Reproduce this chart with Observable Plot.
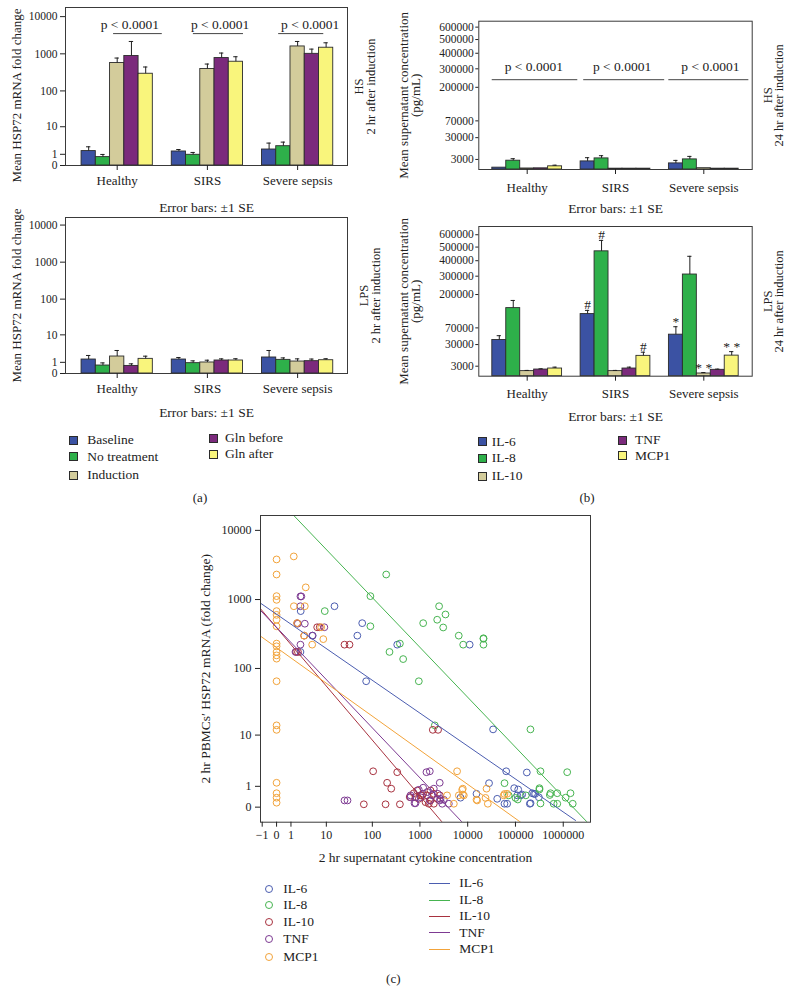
<!DOCTYPE html>
<html><head><meta charset="utf-8">
<script src="https://cdn.jsdelivr.net/npm/d3@7"></script>
<script src="https://cdn.jsdelivr.net/npm/@observablehq/plot@0.6"></script>
<style>
body{margin:0;background:#fff;}
#root{position:relative;width:790px;height:993px;font-family:"Liberation Serif","DejaVu Serif",serif;color:#222;overflow:hidden;background:#fff;}
#root svg{overflow:visible;max-width:none;}
.lab{position:absolute;white-space:nowrap;line-height:1;}
.sw{position:absolute;box-sizing:border-box;}
</style></head><body><div id="root"></div>
<script>
// ---------------- data ----------------
const groups = ["Healthy", "SIRS", "Severe sepsis"];
const hspSeries = ["Baseline", "No treatment", "Induction", "Gln before", "Gln after"];
const cytokines = ["IL-6", "IL-8", "IL-10", "TNF", "MCP1"];
const barColors = ["#3b52a3", "#2eb04a", "#d3cc9b", "#7b2a7c", "#f9f57c"];
const scatterColors = ["#4b5db0", "#46b450", "#a8323f", "#7d3a92", "#f2a33a"];

// (a) HSP72 mRNA fold change, rows = groups, columns = hspSeries
const hs2Mean = [[1.44, 0.68, 566, 872, 291], [1.38, 0.94, 390, 770, 613], [1.69, 2.3, 1580, 1000, 1460]];
const hs2Err  = [[2.18, 0.98, 770, 2150, 442], [1.69, 1.24, 531, 1050, 835], [3.0, 3.25, 2150, 1340, 1980]];
const lps2Mean = [[1.38, 0.64, 1.87, 0.6, 1.48], [1.38, 0.9, 0.98, 1.24, 1.24], [1.7, 1.33, 1.1, 1.15, 1.28]];
const lps2Err  = [[2.06, 0.93, 3.17, 0.82, 1.93], [1.7, 1.19, 1.28, 1.48, 1.5], [3.17, 1.63, 1.48, 1.45, 1.5]];
const hspTicks = [0, 1, 10, 100, 1000, 10000];

// (b) supernatant concentration (pg/mL), columns = cytokines
const hs24Mean = [[100, 2290, 30, 40, 300], [1940, 3650, 20, 20, 20], [1100, 3020, 50, 20, 20]];
const hs24Err  = [[null, 3450, null, null, 550], [4120, 5640, null, null, null], [2450, 5080, null, null, null]];
const lps24Mean = [[39400, 139000, 773, 1330, 1760], [115700, 467600, 773, 1760, 12400], [51700, 310000, 217, 1218, 12700]];
const lps24Err  = [[49200, 172000, 1000, 1630, 2460], [129900, 553000, 1000, 2460, 17300], [73400, 431000, 400, 1500, 18100]];
const concTicks = [3000, 30000, 70000, 200000, 300000, 400000, 500000, 600000];
const lps24Marks = [[1, 0, "#"], [1, 1, "#"], [1, 4, "#"], [2, 0, "*"], [2, 2, "* *"], [2, 4, "* *"]];

// (c) scatter: [cytokine concentration, HSP72 fold change]
const il6Points = [[15.3,800],[2.2,680],[61,455],[48,300],[334,222],[11000,222],[74,65],[4.7,300],[2.16,174],
  [34000,12.3],[64000,2.3],[173000,2.17],[28000,1.22],[94000,0.88],[114000,0.8],[138000,0.52],[224000,0.59],
  [258000,0.55],[15300,0.56],[41500,0.32],[58900,0.12],[67000,0.12],[109000,0.48],[128000,0.48],[207000,0.14],
  [243000,0.56],[309000,0.39],[200000,0.12],[7080,0.37]];
const il8Points = [[9.2,680],[196,2300],[91,1120],[91,410],[230,174],[380,230],[445,137],[948,65],[1170,455],
  [2300,510],[2520,800],[3430,608],[3070,394],[6500,300],[8050,222],[21400,270],[21400,222],[2050,14.2],
  [206000,12.3],[334000,2.3],[1210000,2.2],[59000,1.22],[165000,0.48],[72000,0.48],[112000,0.29],[318000,0.88],
  [318000,0.8],[524000,0.5],[750000,0.59],[1120000,0.37],[1420000,0.59],[1580000,0.12],[750000,0.12],
  [630000,0.12],[334000,0.13],[100000,0.36],[541000,0.59],[21400,275]];
const il10Points = [[6.08,397],[7,397],[25.4,222],[32.6,222],[1.57,174],[1.8,174],[1.7,455],[2.78,300],
  [1860,12.1],[2400,12.1],[104,2.3],[334,2.2],[205,1.25],[250,0.85],[66,0.1],[190,0.1],[380,0.1],[610,0.4],
  [745,0.59],[876,0.74],[1030,0.48],[1170,0.56],[947,0.32],[808,0.39],[1420,0.48],[1665,0.74],[1955,0.56],
  [2300,0.32],[1665,0.25],[1310,0.18],[1115,0.48],[1535,0.12],[1955,0.12],[2610,0.48]];
const tnfPoints = [[2.16,1110],[2.3,1110],[2.16,800],[1.78,447],[2.9,447],[4.6,300],[9,397],[1.49,174],[2.16,222],
  [25.4,0.25],[29.5,0.25],[1370,2.2],[1610,2.3],[2600,1.25],[635,0.39],[947,0.78],[1170,0.91],[808,0.14],
  [1610,0.25],[2370,0.56],[2610,0.25],[1955,0.85],[2930,0.12],[4030,0.12],[3160,0.28],[635,0.48],[770,0.14],
  [1030,0.39],[1420,0.65],[1805,0.48],[2700,0.32]];
const mcp1Points = [[0,3800],[0,2300],[0,1120],[0,990],[0,680],[0,600],[0,510],[0,410],[0,230],[0,210],[0,174],
  [0,155],[0,139],[0,65],[0,14.2],[0,12.1],[0,1.25],[0,0.59],[0,0.37],[0,0.16],[1.29,4200],[1.3,800],[1.7,455],
  [3.08,1500],[2.9,800],[2.78,300],[4.56,222],[8.5,267],[7.6,397],[6000,2.3],[3700,0.48],[5130,0.12],[6520,0.48],
  [7670,0.78],[8300,0.48],[24800,0.85],[23600,0.36],[26400,0.12],[15300,0.28],[15800,0.25],[57000,0.48],
  [67000,0.56],[59000,0.55],[7900,0.85],[7900,0.52]];
// fitted lines, two end points each
const il6Fit = [[-1.17, 886], [1810000, -0.556]];
const il8Fit = [[1.29, 16400], [3180000, -0.65]];
const il10Fit = [[-1.17, 735], [2930, -0.65]];
const tnfFit = [[-1.17, 695], [7670, -0.65]];
const mcp1Fit = [[-1.17, 295], [128000, -0.65]];
const cXTicks = [-1, 0, 1, 10, 100, 1000, 10000, 100000, 1000000];
const cYTicks = [0, 1, 10, 100, 1000, 10000];

// ---------------- drawing ----------------
const root = document.getElementById("root");
const FONT = '"Liberation Serif", "DejaVu Serif", serif';
const BW = 0.158, CAP = 0.024;

function mount(el, left, top) {
  el.style.position = "absolute";
  el.style.left = left + "px";
  el.style.top = top + "px";
  root.appendChild(el);
}
function italicP(svg) {
  svg.querySelectorAll('g[aria-label="pval"] text').forEach(t => {
    const rest = t.textContent.slice(1);
    t.textContent = "";
    const ts = document.createElementNS("http://www.w3.org/2000/svg", "tspan");
    ts.setAttribute("font-style", "italic");
    ts.textContent = "p";
    t.appendChild(ts);
    t.appendChild(document.createTextNode(rest));
  });
}

function barChart(cfg) {
  const data = [];
  cfg.means.forEach((row, gi) => row.forEach((v, si) => {
    const c = gi + (si - 2) * BW;
    data.push({gi, si, name: cfg.series[si], c, v, e: cfg.errs[gi][si]});
  }));
  const errData = data.filter(d => d.e != null);
  const marks = [
    Plot.rectY(data, {x1: d => d.c - BW / 2, x2: d => d.c + BW / 2, y1: 0, y2: "v", fill: "name", stroke: "#2b2b2b", strokeWidth: 0.9}),
    Plot.ruleX(errData, {x: "c", y1: "v", y2: "e", stroke: "#1f1f1f", strokeWidth: 1}),
    Plot.ruleY(errData, {y: "e", x1: d => d.c - CAP, x2: d => d.c + CAP, stroke: "#1f1f1f", strokeWidth: 1}),
    Plot.frame({stroke: "#3a3a3a", strokeWidth: 1}),
    Plot.axisX({ticks: [0, 1, 2], tickFormat: i => groups[i], tickSize: 5, tickPadding: cfg.xPad, fontSize: 13, label: null}),
    Plot.axisY({ticks: cfg.yTicks, tickFormat: d => String(d), tickSize: cfg.yTickSize, tickPadding: cfg.yPad, fontSize: 11.5, label: null}),
    Plot.text([cfg.yLabel], {text: d => d, frameAnchor: "left", textAnchor: "middle", lineAnchor: "middle", dx: cfg.yLabelDx, dy: cfg.yLabelDy || 0, rotate: -90, fontSize: cfg.yLabelSize, lineHeight: 0.95}),
    Plot.text([cfg.sideLabel], {text: d => d, frameAnchor: "right", textAnchor: "middle", lineAnchor: "middle", dx: cfg.sideDx, rotate: -90, fontSize: 12.5, lineHeight: 0.9}),
    Plot.text(["Error bars: ±1 SE"], {text: d => d, frameAnchor: "bottom", textAnchor: "middle", lineAnchor: "middle", dy: cfg.errDy, fontSize: 13.5})
  ];
  if (cfg.pLines) {
    const pd = cfg.pLines.map(([a, b], gi) => ({gi, a, b}));
    marks.push(Plot.ruleY(pd, {y: cfg.pY, x1: d => d.gi + d.a, x2: d => d.gi + d.b, stroke: "#444", strokeWidth: 1}));
    marks.push(Plot.text(pd, {x: d => d.gi + cfg.pText, y: cfg.pY, text: () => "p < 0.0001", dy: cfg.pDy, fontSize: 13.5, ariaLabel: "pval"}));
  }
  if (cfg.flags) {
    const fd = cfg.flags.map(([gi, si, t]) => {
      const d = data.find(q => q.gi === gi && q.si === si);
      return {c: d.c, y: d.e ?? d.v, t};
    });
    marks.push(Plot.text(fd, {x: "c", y: "y", text: "t", lineAnchor: "bottom", dy: -1, fontSize: 13.5}));
  }
  const svg = Plot.plot({
    width: cfg.width, height: cfg.height,
    marginLeft: cfg.m[0], marginRight: cfg.m[1], marginTop: cfg.m[2], marginBottom: cfg.m[3],
    style: {fontFamily: FONT, fontSize: "11.5px", background: "transparent", overflow: "visible", color: "#222"},
    x: {type: "linear", domain: cfg.xDomain, label: null},
    y: cfg.y,
    color: {domain: cfg.series, range: cfg.colors},
    marks
  });
  italicP(svg);
  mount(svg, cfg.left, cfg.top);
}

// (a) top: HS 2 hr
barChart({
  left: 0, top: 0, width: 390, height: 212, m: [65, 43, 7, 47],
  means: hs2Mean, errs: hs2Err, series: hspSeries, colors: barColors,
  xDomain: [-0.573, 2.553],
  y: {type: "symlog", constant: 1, domain: [0, 17600], label: null},
  yTicks: hspTicks, yTickSize: 5, yPad: 3, xPad: 5,
  yLabel: "Mean HSP72 mRNA fold change", yLabelDx: -48, yLabelDy: 9, yLabelSize: 13,
  sideLabel: "HS\n2 hr after induction", sideDx: 18, errDy: 42,
  pLines: [[-0.04, 0.5], [-0.155, 0.4], [-0.21, 0.29]], pY: 3500, pText: 0.14, pDy: -9
});
// (a) bottom: LPS 2 hr
barChart({
  left: 0, top: 212, width: 390, height: 208, m: [65, 43, 5, 47],
  means: lps2Mean, errs: lps2Err, series: hspSeries, colors: barColors,
  xDomain: [-0.573, 2.553],
  y: {type: "symlog", constant: 1, domain: [0, 16000], label: null},
  yTicks: hspTicks, yTickSize: 5, yPad: 3, xPad: 5,
  yLabel: "Mean HSP72 mRNA fold change", yLabelDx: -48, yLabelSize: 13,
  sideLabel: "LPS\n2 hr after induction", sideDx: 23, errDy: 39
});
// (b) top: HS 24 hr
barChart({
  left: 390, top: 0, width: 400, height: 214, m: [88.3, 38.3, 20.7, 45],
  means: hs24Mean, errs: hs24Err, series: cytokines, colors: barColors,
  xDomain: [-0.548, 2.548],
  y: {type: "sqrt", domain: [0, 651000], label: null},
  yTicks: concTicks, yTickSize: 3, yPad: 2, xPad: 8,
  yLabel: "Mean supernatant concentration\n(pg/mL)", yLabelDx: -69, yLabelSize: 13,
  sideLabel: "HS\n24 hr after induction", sideDx: 22, errDy: 39,
  pLines: [[-0.396, 0.573], [-0.36, 0.557], [-0.396, 0.51]], pY: 238700, pText: 0.075, pDy: -13
});
// (b) bottom: LPS 24 hr
barChart({
  left: 390, top: 214, width: 400, height: 208, m: [88.3, 38.3, 12, 46.3],
  means: lps24Mean, errs: lps24Err, series: cytokines, colors: barColors,
  xDomain: [-0.548, 2.548],
  y: {type: "sqrt", domain: [0, 672000], label: null},
  yTicks: concTicks, yTickSize: 3, yPad: 2, xPad: 8,
  yLabel: "Mean supernatant concentration\n(pg/mL)", yLabelDx: -69, yLabelSize: 13,
  sideLabel: "LPS\n24 hr after induction", sideDx: 22, errDy: 40,
  flags: lps24Marks
});

// (c) scatter
const pointSets = [il6Points, il8Points, il10Points, tnfPoints, mcp1Points];
const fitSets = [il6Fit, il8Fit, il10Fit, tnfFit, mcp1Fit];
const dots = cytokines.flatMap((c, i) => pointSets[i].map(([x, y]) => ({c, x, y})));
const fits = cytokines.flatMap((c, i) => fitSets[i].map(([x, y]) => ({c, x, y})));
const cSvg = Plot.plot({
  width: 420, height: 365, marginLeft: 70, marginRight: 20, marginTop: 10, marginBottom: 48.3,
  style: {fontFamily: FONT, fontSize: "12px", background: "transparent", overflow: "visible", color: "#222"},
  x: {type: "symlog", constant: 1, domain: [-1.17, 3720000], label: null},
  y: {type: "symlog", constant: 1, domain: [-0.65, 16400], label: null},
  color: {domain: cytokines, range: scatterColors},
  marks: [
    Plot.dot(dots, {x: "x", y: "y", stroke: "c", r: 3.4, strokeWidth: 1, fill: "none"}),
    Plot.line(fits, {x: "x", y: "y", z: "c", stroke: "c", strokeWidth: 1, clip: true}),
    Plot.frame({stroke: "#3a3a3a", strokeWidth: 1}),
    Plot.axisX({ticks: cXTicks, tickFormat: d => d < 0 ? "\u2212" + Math.abs(d) : String(d), tickSize: 5, tickPadding: 3, fontSize: 12, label: null}),
    Plot.axisY({ticks: cYTicks, tickFormat: d => String(d), tickSize: 5, tickPadding: 4, fontSize: 12, label: null}),
    Plot.text(["2 hr supernatant cytokine concentration"], {text: d => d, frameAnchor: "bottom", textAnchor: "middle", lineAnchor: "middle", dy: 35, fontSize: 13.5}),
    Plot.text(["2 hr PBMCs\u2032 HSP72 mRNA (fold change)"], {text: d => d, frameAnchor: "left", textAnchor: "middle", lineAnchor: "middle", dx: -55, rotate: -90, fontSize: 13.5})
  ]
});
mount(cSvg, 190, 505);

// ---------------- legends & panel letters (HTML) ----------------
function label(txt, x, y, size, center) {
  const d = document.createElement("div");
  d.className = "lab";
  d.textContent = txt;
  d.style.fontSize = size + "px";
  d.style.left = x + "px";
  d.style.top = y + "px";
  d.style.transform = center ? "translate(-50%,-50%)" : "translateY(-50%)";
  root.appendChild(d);
}
function square(color, cx, cy) {
  const d = document.createElement("div");
  d.className = "sw";
  Object.assign(d.style, {left: (cx - 4.5) + "px", top: (cy - 4.5) + "px", width: "9px", height: "9px",
    background: color, border: "1px solid #2b2b2b"});
  root.appendChild(d);
}
function ring(color, cx, cy) {
  const d = document.createElement("div");
  d.className = "sw";
  Object.assign(d.style, {left: (cx - 4) + "px", top: (cy - 4) + "px", width: "8px", height: "8px",
    border: "1.1px solid " + color, borderRadius: "50%"});
  root.appendChild(d);
}
function stroke(color, x, cy) {
  const d = document.createElement("div");
  d.className = "sw";
  Object.assign(d.style, {left: x + "px", top: (cy - 0.5) + "px", width: "21px", height: "0px",
    borderTop: "1.2px solid " + color});
  root.appendChild(d);
}
// legend (a)
const legA = [[73, 440, 87.3], [73, 456.7, 87.3], [73, 475, 87.3], [213.3, 438.3, 225], [213.3, 454.3, 225]];
hspSeries.forEach((s, i) => { const [sx, sy, tx] = legA[i]; square(barColors[i], sx, sy); label(s, tx, sy, 13.5); });
// legend (b)
const legB = [[482.7, 441.7, 491.7], [482.7, 458.3, 491.7], [482.7, 476, 491.7], [622.3, 440, 635], [622.3, 455.7, 635]];
cytokines.forEach((s, i) => { const [sx, sy, tx] = legB[i]; square(barColors[i], sx, sy); label(s, tx, sy, 13.5); });
// legend (c)
const legCy = [889, 905, 922.3, 939.3, 956.7];
const legLy = [883.3, 900, 916, 932.7, 949.3];
cytokines.forEach((s, i) => {
  ring(scatterColors[i], 269.3, legCy[i]); label(s, 283.3, legCy[i], 13.5);
  stroke(scatterColors[i], 429.3, legLy[i]); label(s, 459.3, legLy[i], 13.5);
});
label("(a)", 200, 497, 13, true);
label("(b)", 587, 497, 13, true);
label("(c)", 393.3, 978, 13, true);
</script></body></html>
